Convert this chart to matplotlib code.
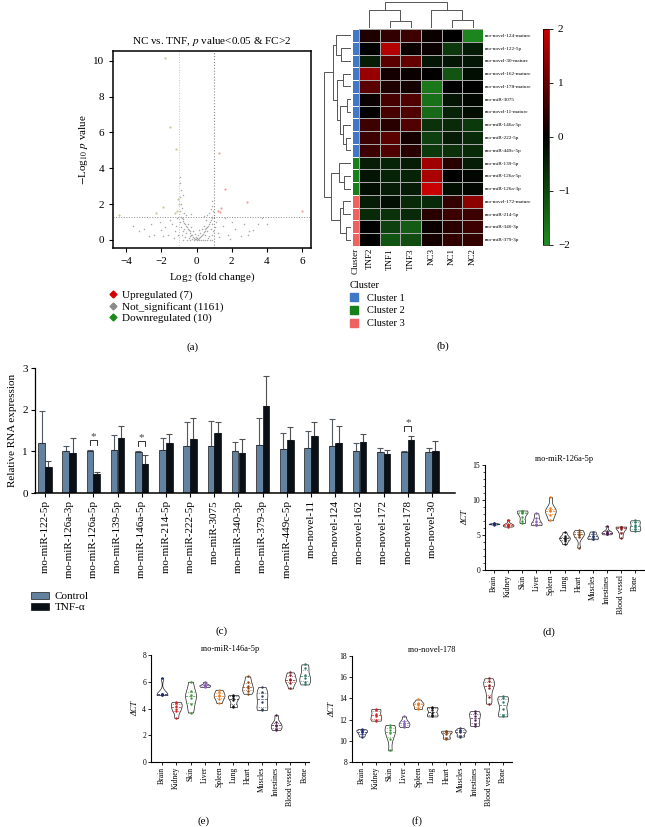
import numpy as np
import matplotlib
matplotlib.use("Agg")
import matplotlib.pyplot as plt
from matplotlib.colors import LinearSegmentedColormap, ListedColormap
from matplotlib.lines import Line2D
from matplotlib.patches import Patch

plt.rcParams["font.family"] = ["Liberation Serif", "DejaVu Serif"]
plt.rcParams["mathtext.fontset"] = "stix"

# ---------------------------------------------------------------- data
# (a) volcano: log2 fold change / -log10 p
gray_pts = [
    (0, 0), (0.05, 0.02), (-0.05, 0.03), (0.1, 0.05), (-0.1, 0.06), (0.15, 0.1),
    (-0.15, 0.12), (0.2, 0.15), (-0.2, 0.18), (0.25, 0.2), (-0.25, 0.25), (0.3, 0.28),
    (-0.3, 0.3), (0.35, 0.35), (-0.35, 0.4), (0.4, 0.42), (-0.4, 0.48), (0.45, 0.5),
    (-0.45, 0.55), (0.5, 0.6), (-0.5, 0.62), (0.55, 0.65), (-0.55, 0.7), (0.6, 0.72),
    (-0.6, 0.8), (0.65, 0.8), (-0.65, 0.88), (0.7, 0.9), (-0.7, 0.95), (0.75, 1.0),
    (-0.75, 1.05), (0.8, 1.1), (-0.8, 1.15), (0.85, 1.2), (-0.85, 1.22), (0.9, 1.28),
    (-0.9, 1.3), (0.1, 0.3), (-0.2, 0.5), (0.3, 0.6), (-0.4, 0.2), (0.5, 0.3),
    (-0.6, 0.4), (0.6, 0.5), (0.7, 0.2), (-0.7, 0.6), (0.2, 0.4), (-0.1, 0.35),
    (0.4, 0.8), (-0.5, 0.9), (0.8, 0.6), (-0.8, 0.5), (0.9, 0.9), (-0.9, 0.7),
    (0.55, 1.1), (-0.3, 0.75), (0.15, 0.55), (-0.25, 0.05), (0.35, 0.02), (-0.45, 0.1),
    (0.65, 0.1), (-0.65, 0.15), (0.85, 0.3), (-0.85, 0.25), (0.95, 0.5), (-0.95, 1.0),
    (0.12, 0.0), (-0.12, 0.0), (0.25, 0.0), (-0.35, 0.0), (0.45, 0.0), (0.6, 0.0),
    (-0.55, 0.0), (0.75, 0.0), (-0.8, 0.0), (0.9, 0.0), (0.05, 0.12), (-0.05, 0.15),
    (-0.95, 1.6), (-0.9, 2.0), (-0.95, 2.4), (-0.9, 2.8), (-0.92, 3.5), (-0.85, 1.8),
    (-0.7, 1.5), (-0.6, 1.4), (0.7, 1.5), (0.8, 1.7), (0.85, 2.2), (0.9, 1.9),
    (0.6, 1.4), (-0.3, 1.45), (0.4, 1.35), (-0.95, 3.2), (0.95, 1.6), (-0.8, 2.5),
    (1.2, 0.4), (1.5, 0.8), (1.8, 0.3), (2.0, 1.0), (2.2, 0.6), (2.5, 0.2),
    (2.7, 0.9), (3.0, 0.5), (3.2, 0.55), (3.5, 0.9), (3.7, 1.2), (1.1, 1.0),
    (1.3, 0.15), (1.6, 1.2), (2.9, 0.3), (1.9, 0.05), (1.05, 0.7), (4.0, 0.9),
    (-1.2, 0.5), (-1.4, 0.9), (-1.6, 0.3), (-1.8, 0.7), (-2.0, 0.55), (-2.1, 1.0),
    (-2.4, 0.3), (-2.7, 0.2), (-3.0, 0.6), (-3.3, 0.5), (-3.6, 0.8), (-1.1, 1.2),
    (-1.3, 0.1), (-1.5, 1.1), (-2.6, 0.9), (-1.9, 0.2), (-1.05, 0.3), (-1.15, 0.8),
]
up_fc = [1.3, 1.6, 2.85, 6.0, 1.2, 1.4, 1.35]
up_logp = [4.85, 2.85, 2.1, 1.6, 1.6, 1.8, 1.55]
down_fc = [-1.8, -1.5, -1.15, -4.4, -1.9, -2.3, -1.05, -1.1, -1.25, -1.02]
down_logp = [10.15, 6.3, 5.1, 1.4, 1.85, 1.5, 2.3, 1.6, 1.5, 2.0]

# (b) heatmap
hm_cols = ["TNF2", "TNF1", "TNF3", "NC3", "NC1", "NC2"]
hm_rows = ["rno-novel-124-mature", "rno-novel-122-5p", "rno-novel-30-mature",
           "rno-novel-162-mature", "rno-novel-178-mature", "rno-miR-3075",
           "rno-novel-11-mature", "rno-miR-146a-5p", "rno-miR-222-5p",
           "rno-miR-449c-5p", "rno-miR-139-5p", "rno-miR-126a-5p",
           "rno-miR-126a-3p", "rno-novel-172-mature", "rno-miR-214-5p",
           "rno-miR-340-3p", "rno-miR-379-3p"]
hm_values = [
    [0.3, 0.5, 0.6, 0.1, 0.0, -1.9],
    [0.0, 1.8, 0.1, 0.1, -0.8, -0.4],
    [-0.4, 0.9, 1.0, -0.3, -0.3, -0.3],
    [1.5, 0.2, 0.1, 0.0, -1.2, -0.2],
    [0.9, 0.3, 0.2, -1.7, 0.0, 0.0],
    [0.1, 0.7, 0.8, -1.6, -0.3, -0.1],
    [0.0, 0.7, 0.8, -1.5, -0.5, -0.2],
    [0.6, 0.4, 0.8, -0.7, -0.6, -0.8],
    [0.6, 0.9, 0.2, -0.9, -0.4, -0.6],
    [0.6, 0.8, 0.4, -0.8, -0.7, -0.6],
    [-0.4, -0.5, -0.4, 1.6, 0.4, -0.4],
    [-0.3, -0.5, -0.5, 1.7, 0.0, -0.1],
    [-0.2, -0.4, -0.4, 2.0, -0.2, -0.1],
    [-0.4, -0.2, -0.6, -0.6, 0.5, 1.4],
    [-0.6, -0.7, -0.6, 0.4, 0.6, 0.6],
    [0.0, -0.9, -1.3, 0.1, 0.4, 0.6],
    [0.0, -1.2, -1.1, 0.2, 0.5, 0.5],
]
hm_cluster = [0] * 10 + [1] * 3 + [2] * 4
cluster_names = ["Cluster 1", "Cluster 2", "Cluster 3"]
cluster_colors = ["#4178c6", "#17801a", "#ef6262"]
# linkage trees: (left, right, height)
col_tree = ((0, (1, 2, 0.25), 0.69), (3, (4, 5, 0.29), 0.69), 1.0)
row_tree = (
    ((0, (1, 2, 0.35), 0.55),
     ((3, 4, 0.3), ((5, 6, 0.15), (7, (8, 9, 0.2), 0.3), 0.4), 0.5), 0.65),
    ((10, (11, 12, 0.25), 0.45), ((13, 14, 0.3), (15, 16, 0.2), 0.4), 0.72),
    1.0)

# (c) qPCR bars
bar_labels = ["rno-miR-122-5p", "rno-miR-126a-3p", "rno-miR-126a-5p", "rno-miR-139-5p",
              "rno-miR-146a-5p", "rno-miR-214-5p", "rno-miR-222-5p", "rno-miR-3075",
              "rno-miR-340-3p", "rno-miR-379-3p", "rno-miR-449c-5p", "rno-novel-11",
              "rno-novel-124", "rno-novel-162", "rno-novel-172", "rno-novel-178",
              "rno-novel-30"]
ctrl_mean = [1.20, 1.00, 1.00, 1.03, 0.99, 1.03, 1.12, 1.12, 1.01, 1.15, 1.05, 1.07,
             1.13, 1.00, 0.99, 0.99, 0.98]
ctrl_sd = [0.77, 0.12, 0.03, 0.36, 0.02, 0.28, 0.58, 0.60, 0.21, 0.65, 0.40, 0.43,
           0.64, 0.21, 0.08, 0.03, 0.09]
tnf_mean = [0.63, 0.97, 0.45, 1.31, 0.70, 1.19, 1.30, 1.43, 0.96, 2.10, 1.27, 1.37,
            1.20, 1.23, 0.93, 1.27, 1.00]
tnf_sd = [0.15, 0.34, 0.06, 0.31, 0.21, 0.23, 0.51, 0.27, 0.33, 0.72, 0.32, 0.34,
          0.41, 0.18, 0.11, 0.09, 0.26]
sig_idx = [2, 4, 15]

# (d)-(f) tissue dCT
tissues = ["Brain", "Kidney", "Skin", "Liver", "Spleen", "Lung", "Heart", "Muscles",
           "Intestines", "Blood vessel", "Bone"]
tissue_colors = ["#1c2a78", "#d81e1e", "#3a9a3a", "#8a5fb5", "#ee7a1a", "#111111",
                 "#8b4513", "#2b3a67", "#4b1a4b", "#8b1a1a", "#2a7a6a"]
mir126_dct = [
    [6.5, 6.55, 6.6, 6.6, 6.65, 6.7],
    [6.2, 6.3, 6.4, 6.5, 6.6, 7.2],
    [6.7, 7.0, 7.6, 8.1, 8.3, 8.4, 8.5],
    [6.4, 6.5, 6.6, 7.0, 7.5, 8.1],
    [7.1, 7.9, 8.4, 8.6, 8.8, 10.4],
    [3.7, 4.2, 4.5, 4.6, 4.8, 5.4],
    [3.2, 4.7, 5.0, 5.2, 5.5, 5.7],
    [4.4, 4.5, 4.7, 4.9, 5.2, 5.5],
    [5.1, 5.2, 5.3, 5.4, 5.6, 6.3],
    [4.6, 5.3, 5.8, 6.1, 6.2, 6.2],
    [5.6, 5.8, 6.1, 6.5, 6.9, 7.1],
]
mir146_dct = [
    [5.0, 5.0, 5.05, 5.1, 5.1, 6.3],
    [3.3, 3.8, 4.0, 4.2, 4.4, 4.5],
    [3.7, 4.3, 4.8, 5.0, 5.3, 6.0],
    [5.6, 5.65, 5.7, 5.75, 5.8, 6.0],
    [4.4, 4.7, 4.9, 5.0, 5.2, 5.4],
    [4.1, 4.2, 4.6, 4.8, 4.95, 5.0],
    [5.1, 5.3, 5.5, 5.7, 6.0, 6.4],
    [3.9, 4.0, 4.5, 4.9, 5.2, 5.6],
    [2.4, 2.5, 2.7, 2.8, 3.0, 3.5],
    [5.5, 5.9, 6.1, 6.2, 6.5, 6.7],
    [5.8, 6.0, 6.3, 6.5, 7.0, 7.3],
]
novel178_dct = [
    [10.4, 10.6, 10.8, 10.9, 11.0, 11.1],
    [11.9, 12.0, 12.3, 12.5, 12.9, 13.0],
    [9.1, 10.2, 10.7, 11.0, 11.3, 11.5],
    [11.3, 11.4, 11.6, 11.7, 11.9, 12.3],
    [13.0, 13.1, 13.4, 13.5, 13.6, 13.9],
    [12.3, 12.4, 12.6, 12.9, 13.1, 13.2],
    [10.2, 10.3, 10.6, 10.8, 10.9, 10.95],
    [10.4, 10.5, 10.8, 10.9, 11.0, 11.2],
    [11.4, 11.6, 12.0, 12.3, 12.6, 12.8],
    [13.5, 14.1, 15.0, 15.3, 15.6, 15.9],
    [12.3, 12.4, 13.0, 13.7, 14.0, 14.2],
]

# ---------------------------------------------------------------- layout
W, H = 645, 827
fig = plt.figure(figsize=(W / 100, H / 100), dpi=100)


def px_axes(l, t, r, b):
    return fig.add_axes([l / W, 1 - b / H, (r - l) / W, (b - t) / H])


def fig_text(x, y, s, **kw):
    fig.text(x / W, 1 - y / H, s, **kw)


# ---------------------------------------------------------------- (a)
ax = px_axes(113, 51, 311, 248)
gp = np.array(gray_pts)
ax.scatter(gp[:, 0], gp[:, 1], s=1.2, color="#a9a9a9", linewidths=0, zorder=2)
ax.scatter(up_fc, up_logp, s=2.5, color="#f29a9a", linewidths=0, zorder=3)
ax.scatter(down_fc, down_logp, s=2.5, color="#cfc98e", linewidths=0, zorder=3)
ax.axvline(-1, color="#c4c4c4", ls=":", lw=0.7, zorder=1)
ax.axvline(1, color="#8a8a8a", ls=":", lw=0.8, zorder=1)
ax.axhline(-np.log10(0.05), color="#8a8a8a", ls=":", lw=0.7, zorder=1)
ax.set_xlim(-4.75, 6.5)
ax.set_ylim(-0.45, 10.55)
ax.set_xticks([-4, -2, 0, 2, 4, 6])
ax.set_yticks([0, 2, 4, 6, 8, 10])
ax.tick_params(labelsize=8, length=3, width=0.8)
for s in ax.spines.values():
    s.set_linewidth(1.1)
ax.set_title(r"NC vs. TNF, $\it{p}$ value<0.05 & FC>2", fontsize=8, pad=5)
ax.set_xlabel(r"Log$_2$ (fold change)", fontsize=8, labelpad=3)
ax.set_ylabel(r"$-$Log$_{10}$ $\it{p}$ value", fontsize=8, labelpad=2)
leg_h = [Line2D([], [], ls="none", marker="D", ms=3.5, color=c, label=l)
         for c, l in (("#d40000", "Upregulated (7)"),
                      ("#8a8a8a", "Not_significant (1161)"),
                      ("#1a8a1a", "Downregulated (10)"))]
ax.legend(handles=leg_h, loc="upper left", bbox_to_anchor=(109 / W, 1 - 290 / H),
          bbox_transform=fig.transFigure, frameon=False, fontsize=8,
          handlelength=0.8, handletextpad=0.4, labelspacing=0.15,
          borderpad=0, borderaxespad=0)
fig_text(193, 347, "(a)", fontsize=8, ha="center", va="center")

# ---------------------------------------------------------------- (b)
hm_cmap = LinearSegmentedColormap.from_list("gkr", ["#1e8c1e", "#000000", "#c80000"])
axh = px_axes(359, 29, 483, 246)
mesh = axh.pcolormesh(np.array(hm_values), cmap=hm_cmap, vmin=-2, vmax=2,
                      edgecolors="#a8a8a8", linewidth=0.5)
axh.set_xlim(0, 6)
axh.set_ylim(17, 0)
axh.yaxis.tick_right()
axh.set_yticks(np.arange(17) + 0.5)
axh.set_yticklabels(hm_rows, fontsize=3.8)
axh.set_xticks(np.arange(6) + 0.5)
axh.set_xticklabels(hm_cols, fontsize=6.5, rotation=90)
axh.tick_params(length=0, pad=1.5)
for s in axh.spines.values():
    s.set_visible(False)

axc = px_axes(352, 29, 359, 246)
axc.pcolormesh(np.array(hm_cluster)[:, None], cmap=ListedColormap(cluster_colors),
               vmin=-0.5, vmax=2.5, edgecolors="white", linewidth=0.4)
axc.set_ylim(17, 0)
axc.set_yticks([])
axc.set_xticks([0.5])
axc.set_xticklabels(["Cluster"], fontsize=6.5, rotation=90)
axc.tick_params(length=0, pad=1.5)
for s in axc.spines.values():
    s.set_visible(False)


def draw_tree(ax, node, orient):
    if isinstance(node, int):
        return node + 0.5, 0.0
    a, b, h = node
    pa, ha = draw_tree(ax, a, orient)
    pb, hb = draw_tree(ax, b, orient)
    if orient == "top":
        ax.plot([pa, pa, pb, pb], [ha, h, h, hb], color="#555555", lw=0.7)
    else:
        ax.plot([ha, h, h, hb], [pa, pa, pb, pb], color="#555555", lw=0.7)
    return (pa + pb) / 2, h


axd = px_axes(359, 1, 483, 28)
draw_tree(axd, col_tree, "top")
axd.set_xlim(0, 6)
axd.set_ylim(0, 1.03)
axd.axis("off")

axr = px_axes(323, 29, 351, 246)
draw_tree(axr, row_tree, "left")
axr.set_xlim(1.03, 0)
axr.set_ylim(17, 0)
axr.axis("off")

cax = px_axes(543, 29, 549, 245)
cb = fig.colorbar(mesh, cax=cax, ticks=[-2, -1, 0, 1, 2])
cb.outline.set_linewidth(0.5)
cax.tick_params(labelsize=8, length=3, width=0.6)
cax.set_yticklabels(["\u22122", "\u22121", "0", "1", "2"])

cl_h = [Patch(color=c, label=n) for c, n in zip(cluster_colors, cluster_names)]
axh.legend(handles=cl_h, title="Cluster", loc="upper left",
           bbox_to_anchor=(350 / W, 1 - 281 / H), bbox_transform=fig.transFigure,
           frameon=False, fontsize=7.5, title_fontsize=7.5, alignment="left",
           handlelength=0.8, handleheight=0.8, handletextpad=0.8, labelspacing=0.3,
           borderpad=0, borderaxespad=0)
fig_text(443, 346, "(b)", fontsize=8, ha="center", va="center")

# ---------------------------------------------------------------- (c)
axb = px_axes(35, 368, 455, 493)
x = np.arange(len(bar_labels))
bw = 0.27
axb.bar(x - 0.14, ctrl_mean, bw, color="#6282a0", edgecolor="#1a1a1a", lw=0.5,
        label="Control", zorder=2)
axb.bar(x + 0.14, tnf_mean, bw, color="#0b1016", edgecolor="#0b1016", lw=0.5,
        label="TNF-\u03b1", zorder=2)
axb.errorbar(x - 0.14, ctrl_mean, yerr=[np.zeros(len(x)), ctrl_sd], fmt="none",
             ecolor="#505a64", elinewidth=0.8, capsize=2.2, capthick=0.8, zorder=1)
axb.errorbar(x + 0.14, tnf_mean, yerr=[np.zeros(len(x)), tnf_sd], fmt="none",
             ecolor="#505050", elinewidth=0.8, capsize=2.2, capthick=0.8, zorder=1)
for i in sig_idx:
    top = max(ctrl_mean[i] + ctrl_sd[i], tnf_mean[i] + tnf_sd[i]) + 0.25
    axb.plot([i - 0.14, i - 0.14, i + 0.14, i + 0.14], [top - 0.13, top, top, top - 0.13],
             color="#333333", lw=0.7)
    axb.text(i, top - 0.04, "*", ha="center", va="bottom", fontsize=8, color="#444444")
axb.set_xlim(-0.41, 16.95)
axb.set_ylim(0, 3)
axb.set_yticks([0, 1, 2, 3])
axb.set_xticks(x)
axb.set_xticklabels(bar_labels, rotation=90, fontsize=8)
axb.tick_params(labelsize=8, length=3, width=0.8, pad=2)
axb.spines[["top", "right"]].set_visible(False)
axb.spines["left"].set_linewidth(0.9)
axb.spines["bottom"].set_linewidth(1.1)
axb.set_ylabel("Relative RNA expression", fontsize=8, labelpad=4)
axb.legend(loc="upper left", bbox_to_anchor=(31 / W, 1 - 592 / H),
           bbox_transform=fig.transFigure, frameon=False, fontsize=8,
           handlelength=1.6, handleheight=0.6, handletextpad=0.5, labelspacing=0.1,
           borderpad=0, borderaxespad=0)
fig_text(222, 631, "(c)", fontsize=8, ha="center", va="center")


# ---------------------------------------------------------------- (d)-(f)
def violin(ax, vals, pos, color):
    v = np.asarray(vals, dtype=float)
    lo, hi = v.min(), v.max()
    h = 0.7 * 1.06 * v.std(ddof=1) * len(v) ** -0.2
    yy = np.linspace(lo, hi, 80)
    dens = np.exp(-0.5 * ((yy[:, None] - v[None, :]) / h) ** 2).sum(1)
    half = 0.38 * dens / dens.max()
    ax.fill_betweenx(yy, pos - half, pos + half, facecolor="white",
                     edgecolor="#222222", lw=0.5, zorder=2, clip_on=False)
    q1, med, q3 = np.percentile(v, [25, 50, 75])
    for q, ls in ((q1, ":"), (med, "--"), (q3, ":")):
        w = np.interp(q, yy, half)
        ax.plot([pos - w, pos + w], [q, q], color=color, lw=0.5, ls=ls, zorder=3)
    ax.scatter(np.full(len(v), pos), v, s=3, color=color, linewidths=0, zorder=4,
               clip_on=False)


def tissue_panel(box, data, title, ylim, yticks, xlim, minor=None):
    ax = px_axes(*box)
    for i, (vals, c) in enumerate(zip(data, tissue_colors)):
        violin(ax, vals, i, c)
    ax.set_xlim(*xlim)
    ax.set_ylim(*ylim)
    ax.set_yticks(yticks)
    if minor is not None:
        ax.set_yticks(minor, minor=True)
    ax.set_xticks(range(len(tissues)))
    ax.set_xticklabels(tissues, rotation=90, fontsize=5.5)
    ax.tick_params(labelsize=5.5, length=2, width=0.6, pad=1.5)
    ax.tick_params(which="minor", length=1.3, width=0.5)
    ax.spines[["top", "right"]].set_visible(False)
    for s in ("left", "bottom"):
        ax.spines[s].set_linewidth(0.8)
    ax.set_title(title, fontsize=6, pad=3)
    ax.set_ylabel("\u0394CT", fontsize=6, fontstyle="italic", labelpad=2)
    return ax


tissue_panel((485, 465, 644, 570), mir126_dct, "rno-miR-126a-5p", (0, 15),
             [0, 5, 10, 15], (-0.64, 10.64), minor=np.arange(0, 16, 1))
fig_text(549, 632, "(d)", fontsize=8, ha="center", va="center")

tissue_panel((151, 655, 309, 762), mir146_dct, "rno-miR-146a-5p", (0, 8),
             [0, 2, 4, 6, 8], (-0.77, 10.3))
fig_text(204, 821, "(e)", fontsize=8, ha="center", va="center")

tissue_panel((352, 656, 512, 762), novel178_dct, "rno-novel-178", (8, 18),
             [8, 10, 12, 14, 16, 18], (-0.69, 10.66))
fig_text(417, 821, "(f)", fontsize=8, ha="center", va="center")

fig.savefig("out.png", dpi=100)
